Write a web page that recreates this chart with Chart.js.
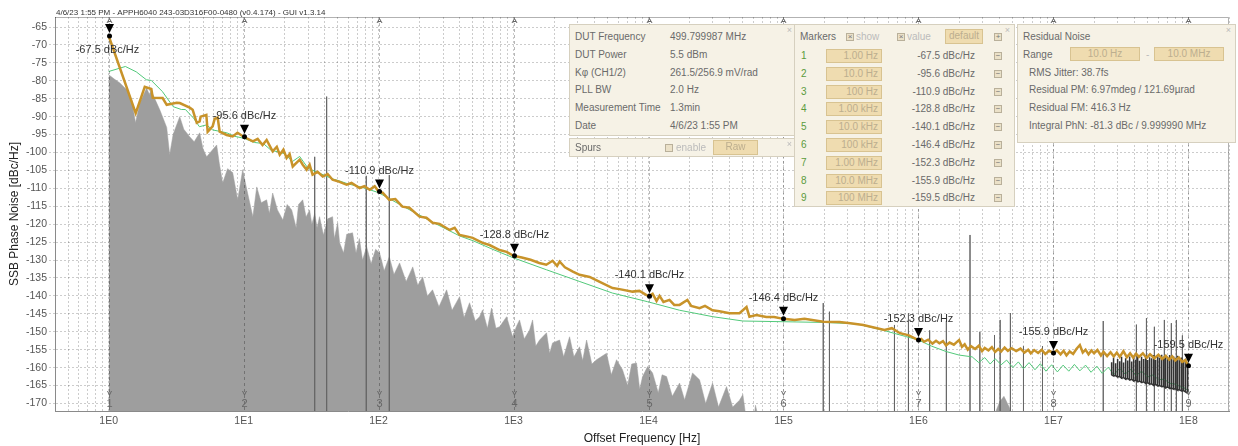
<!DOCTYPE html>
<html>
<head>
<meta charset="utf-8">
<title>SSB Phase Noise</title>
<script src="https://cdn.jsdelivr.net/npm/chart.js@4.4.1/dist/chart.umd.min.js"></script>
<style>
    html, body { margin: 0; padding: 0; background: #fff; }
    #wrap { position: relative; width: 1238px; height: 446px; overflow: hidden;
            font-family: "Liberation Sans", Arial, sans-serif; }
    #phaseNoiseChart { position: absolute; left: 0; top: 0; }
    .panel { position: absolute; background: #f6f2e6; border: 1px solid #d6d0bf;
             box-sizing: border-box; font-size: 10px; color: #6a6a6a; }
    .panel .close { position: absolute; right: 4px; top: 0px; font-size: 9px; color: #bbb; }
    .row { position: absolute; left: 5px; height: 12px; line-height: 12px; white-space: nowrap; }
    .val { left: 100px; }
    .num { color: #5b9b3c; }
    .faint { color: #bbb; }
    .btn { position: absolute; background: #efdcb0; border: 1px solid #d8c391; box-sizing: border-box;
           color: #bcae8f; font-size: 10px; line-height: 12px; white-space: nowrap; }
    .cb { position: absolute; width: 8px; height: 8px; box-sizing: border-box; border: 1px solid #b9b09a;
          background: #ebe1c8; font-size: 8px; line-height: 6px; text-align: center; color: #777; }
</style>
</head>
<body>
<div id="wrap">
    <canvas id="phaseNoiseChart" width="1238" height="446"></canvas>

    <div class="panel" style="left:569px;top:24px;width:228px;height:112px;">
        <span class="close">×</span>
        <div class="row" style="top:6px">DUT Frequency</div><div class="row val" style="top:6px">499.799987 MHz</div>
        <div class="row" style="top:24px">DUT Power</div><div class="row val" style="top:24px">5.5 dBm</div>
        <div class="row" style="top:41.5px">Kφ (CH1/2)</div><div class="row val" style="top:41.5px">261.5/256.9 mV/rad</div>
        <div class="row" style="top:59px">PLL BW</div><div class="row val" style="top:59px">2.0 Hz</div>
        <div class="row" style="top:77px">Measurement Time</div><div class="row val" style="top:77px">1.3min</div>
        <div class="row" style="top:94.5px">Date</div><div class="row val" style="top:94.5px">4/6/23 1:55 PM</div>
    </div>

    <div class="panel" style="left:569px;top:138px;width:228px;height:19px;">
        <span class="close">×</span>
        <div class="row" style="top:3px">Spurs</div>
        <div class="cb" style="left:95px;top:5px;"></div>
        <div class="row faint" style="left:106px;top:3px">enable</div>
        <div class="btn" style="left:143px;top:1px;width:45px;height:15px;text-align:center;">Raw</div>
    </div>

    <div class="panel" id="markerPanel" style="left:794px;top:24px;width:221px;height:183px;">
        <span class="close">×</span>
        <div class="row" style="top:6px">Markers</div>
        <div class="cb" style="left:51px;top:8px;">×</div>
        <div class="row faint" style="left:61px;top:6px">show</div>
        <div class="cb" style="left:102px;top:8px;">×</div>
        <div class="row faint" style="left:112px;top:6px">value</div>
        <div class="btn" style="left:150px;top:4px;width:38px;height:15px;text-align:center;">default</div>
        <div class="cb" style="left:199px;top:8px;">+</div>
    </div>

    <div class="panel" style="left:1017px;top:24px;width:219px;height:119px;">
        <span class="close">×</span>
        <div class="row" style="top:6px">Residual Noise</div>
        <div class="row" style="top:24px">Range</div>
        <div class="btn" style="left:52px;top:22px;width:70px;height:14px;text-align:center;">10.0 Hz</div>
        <div class="row faint" style="left:128px;top:24px">-</div>
        <div class="btn" style="left:136px;top:22px;width:70px;height:14px;text-align:center;">10.0 MHz</div>
        <div class="row" style="left:11px;top:41.5px">RMS Jitter: 38.7fs</div>
        <div class="row" style="left:11px;top:59px">Residual PM: 6.97mdeg / 121.69µrad</div>
        <div class="row" style="left:11px;top:77px">Residual FM: 416.3 Hz</div>
        <div class="row" style="left:11px;top:94.5px">Integral PhN: -81.3 dBc / 9.999990 MHz</div>
    </div>
</div>

<script>
// ---- chart data (offset frequency in Hz, level in dBc/Hz) ----

const headerText = '4/6/23 1:55 PM - APPH6040 243-03D316F00-0480 (v0.4.174) - GUI v1.3.14';

const xTickValues = [1, 10, 100, 1e3, 1e4, 1e5, 1e6, 1e7, 1e8];
const xTickLabels = ['1E0', '1E1', '1E2', '1E3', '1E4', '1E5', '1E6', '1E7', '1E8'];
const yTickValues = [-170, -165, -160, -155, -150, -145, -140, -135, -130, -125, -120, -115,
                     -110, -105, -100, -95, -90, -85, -80, -75, -70, -65];

// measured phase noise (orange trace)
const noiseFreq = [
    1, 1.585, 1.85, 2.07, 2.12, 2.51, 2.69, 3.19, 3.36, 3.98, 4.19, 4.49, 4.72, 4.8, 5.29, 5.41,
    5.89, 6.1, 6.42, 6.64, 7.48, 8.29, 9.0, 10,
    11.7, 12.7, 13.8, 14.8, 16.4, 17.6, 18.5, 19.7, 20.8, 21.9, 23.1, 26, 27.4, 29.3, 30.8, 32.4,
    35.3, 38.5, 41.9, 45.6, 51.4, 57.9, 63, 72.3, 78.5, 85.8, 93.5, 100,
    107, 120, 133, 150, 169, 201, 226, 251, 283, 336, 366, 398, 449, 497, 589, 663, 788, 888, 1000,
    1150, 1337, 1550, 1747, 1945, 2100, 2193, 2400, 2750, 3083, 3660, 4350, 5410, 6100, 7610, 8560, 10000,
    10715, 11470, 12060, 12900, 14300, 15500, 16980, 19400, 20700, 23880, 26200, 29800, 33500, 39800,
    47200, 53200, 55900, 63000, 74600, 85200, 100000,
    121000, 143000, 197000, 260000, 313000, 390000, 560000, 635000, 730000, 850000,
    1e6, 1.05e6, 1.1e6, 1.18e6, 1.27e6, 1.35e6, 1.43e6, 1.52e6, 1.6e6, 1.7e6, 1.83e6, 1.92e6,
    2.0e6, 2.1e6, 2.2e6, 2.32e6, 2.45e6, 2.63e6, 2.8e6, 2.96e6, 3.1e6, 3.3e6, 3.5e6, 3.7e6, 3.9e6,
    4.1e6, 4.35e6, 4.6e6, 4.9e6, 5.3e6, 5.7e6, 6.1e6, 6.5e6, 6.8e6, 7.2e6, 7.7e6, 8.2e6, 8.7e6, 9.3e6,
    1e7, 1.06e7, 1.13e7, 1.19e7, 1.25e7, 1.32e7, 1.4e7, 1.48e7, 1.57e7, 1.65e7, 1.73e7, 1.82e7, 1.91e7,
    2.0e7, 2.12e7, 2.25e7, 2.35e7, 2.5e7, 2.65e7, 2.8e7, 2.95e7, 3.1e7, 3.3e7, 3.5e7, 3.7e7, 3.9e7,
    4.1e7, 4.3e7, 4.6e7, 4.9e7, 5.2e7, 5.6e7, 6.0e7, 6.4e7, 6.8e7, 7.2e7, 7.6e7, 8.0e7, 8.5e7, 9.0e7,
    9.5e7, 1e8
];
const noiseLevel = [
    -67.5, -89.0, -81.7, -82.3, -84.7, -84.8, -86.7, -86.1, -86.2, -87.5, -88.1, -91.7, -91.3, -90.0, -89.5, -94.2,
    -92.7, -90.6, -90.3, -94.2, -95.1, -95.5, -94.5, -95.6,
    -96.9, -96.2, -97.9, -96.5, -99.7, -98.4, -100.6, -99.2, -101.5, -100.4, -103.9, -102.0, -103.4, -104.8, -103.4, -106.2,
    -105.4, -106.7, -106.0, -107.6, -108.2, -109.0, -108.5, -109.9, -109.4, -110.4, -109.4, -110.9,
    -111.2, -113.2, -113.0, -115.1, -115.4, -117.9, -118.2, -119.6, -119.9, -121.6, -121.0, -123.0, -123.4, -123.8, -125.2, -125.8, -127.2, -127.7, -128.8,
    -129.3, -129.9, -130.8, -131.3, -130.2, -131.6, -130.4, -132.0, -133.2, -134.1, -134.7, -136.1, -137.8, -138.1, -138.8, -138.6, -140.1,
    -139.4, -141.4, -140.0, -141.7, -141.1, -142.5, -142.5, -141.1, -142.8, -143.4, -142.8, -144.0, -144.3, -144.8,
    -144.8, -143.1, -145.8, -145.3, -145.9, -145.9, -146.4,
    -146.7, -146.4, -147.2, -147.3, -147.6, -148.1, -149.5, -149.0, -150.4, -151.0,
    -152.3, -152.0, -152.8, -152.2, -153.3, -152.5, -153.2, -152.6, -153.8, -153.0, -153.6, -152.9,
    -152.3, -154.2, -153.5, -155.0, -154.0, -154.8, -153.9, -155.4, -154.5, -155.2, -154.3, -155.6, -154.8,
    -155.5, -154.4, -155.3, -154.6, -155.4, -154.7, -155.8, -155.0, -156.0, -155.1, -155.9, -155.0, -156.2, -155.3,
    -155.9, -155.2, -156.3, -155.3, -156.6, -155.5, -156.2, -154.8, -153.7, -155.8, -155.0, -156.3, -155.2,
    -156.0, -155.1, -156.6, -155.6, -156.8, -155.7, -156.9, -155.8, -157.0, -155.4, -157.1, -156.0, -157.2,
    -156.1, -157.0, -156.0, -157.3, -156.3, -157.4, -156.4, -157.6, -156.7, -157.8, -156.9, -158.0, -157.2, -158.4,
    -157.9, -159.5
];

// reference trace (green)
const refFreq = [
    1, 1.33, 1.6, 1.9, 2.07, 2.5, 3.0, 3.45, 3.7, 4.25, 4.7, 5.3, 5.9, 7.5, 8.6, 10,
    12, 14, 16, 18, 20, 23, 26, 30, 35, 40, 45, 50, 60, 70, 80, 100,
    130, 170, 200, 250, 300, 400, 500, 700, 1000, 1750, 3100, 5400, 9800, 17000, 30000, 50000,
    1e5, 2e5, 3.5e5, 5.5e5, 8e5, 1e6, 1.25e6, 1.6e6, 2e6,
    2.5e6, 2.8e6, 3.1e6, 3.4e6, 3.7e6, 4.1e6, 4.5e6, 5e6, 5.5e6, 6e6, 6.6e6, 7.3e6, 8e6, 8.8e6, 9.7e6,
    1.07e7, 1.18e7, 1.3e7, 1.43e7, 1.57e7, 1.73e7, 1.9e7, 2.1e7, 2.3e7, 2.55e7, 2.8e7, 3.1e7, 3.4e7,
    3.75e7, 4.1e7, 4.5e7, 5e7, 5.5e7, 6e7, 6.6e7, 7.3e7, 8e7, 8.8e7, 9.5e7, 1e8
];
const refLevel = [
    -77.4, -76.0, -77.5, -79.7, -79.9, -83.0, -87.2, -88.0, -88.0, -90.4, -92.8, -92.3, -93.7, -94.5, -95.5, -96.0,
    -97.2, -97.5, -99.4, -99.8, -100.3, -102.5, -101.1, -104.4, -105.5, -106.4, -107.3, -107.8, -108.8, -109.4, -110.0, -111.2,
    -113.6, -116.0, -117.4, -119.4, -120.9, -123.3, -124.6, -127.0, -129.4, -132.7, -136.0, -139.2, -141.6, -144.0, -145.8, -147.0,
    -147.2, -147.4, -147.8, -149.6, -151.3, -152.3, -154.0, -155.5, -156.5,
    -157.0, -158.6, -157.2, -159.0, -157.5, -159.2, -157.9, -160.0, -158.4, -160.3, -158.6, -160.6, -158.9, -161.0, -159.2,
    -161.2, -159.3, -161.0, -159.1, -160.9, -159.3, -161.3, -159.6, -161.6, -159.9, -162.0, -160.2, -161.8,
    -160.5, -162.2, -161.0, -162.6, -162.0, -163.4, -163.2, -164.4, -164.6, -165.4, -165.8, -166.5
];

// raw noise floor (grey area)
const floorFreq = [
    1, 1.1, 1.21, 1.36, 1.48, 1.58, 1.7, 1.91, 2.01, 2.05, 2.39, 2.69, 2.83, 3.0, 3.36, 3.6, 3.98, 4.3, 4.72, 5.0,
    5.32, 5.8, 6.31, 6.6, 6.99, 7.6, 8.29, 9.03, 9.84, 10.5, 11.7, 12.5, 13.5, 14.8, 15.5, 16.4, 17.8, 19.5,
    21, 22.7, 24.5, 25.5, 27.4, 29, 30.8, 32, 33.6, 35, 36.5, 39, 42, 45.6, 47, 49.7, 51.4, 55, 58, 64.1, 68, 72,
    76, 81.5, 88, 95, 101.7, 110, 120, 130, 143, 160, 179, 195, 212, 230, 251, 280, 319, 350, 398, 430, 472, 520,
    560, 589, 640, 687, 740, 788, 888, 984, 1050, 1107, 1200, 1314, 1383, 1460, 1559, 1755, 1850, 1945, 2193,
    2350, 2600, 2800, 3083, 3250, 3475, 3800, 4120, 4885, 5300, 5794, 6412, 7000, 7500, 8147, 8600, 9033, 9840,
    10715, 11800, 12600, 13600, 15000, 16980, 18500, 21180, 23880, 26500, 29800, 33000, 37840, 42000, 47200,
    50000, 53200, 60000, 62000, 66000, 3.5e6, 4.0e6, 4.3e6, 4.7e6, 5.0e6
];
const floorLevel = [
    -78.3, -79.5, -80.6, -82.5, -85.3, -91.7, -86.2, -82.0, -84.0, -82.5, -88.1, -93.0, -100.6, -95.0, -90.0, -93.5, -95.6, -97.0, -94.5, -99.0,
    -101.2, -99.5, -97.9, -103.0, -108.5, -104.5, -105.6, -113.2, -104.8, -110.0, -117.9, -109.6, -114.0, -113.2, -117.0, -111.3, -116.0, -118.8,
    -114.5, -116.0, -121.0, -114.5, -113.2, -118.0, -116.0, -120.0, -117.0, -121.0, -117.9, -123.0, -118.5, -117.9, -124.0, -119.6, -125.2, -128.0, -122.8, -122.4, -128.0, -124.0,
    -130.0, -126.3, -131.0, -127.0, -128.0, -133.0, -129.1, -134.0, -130.8, -136.0, -131.9, -137.0, -134.7, -140.0, -138.3, -143.0, -138.3, -144.0, -140.2, -146.0, -141.9, -147.0,
    -145.8, -143.9, -149.0, -143.4, -149.0, -148.6, -145.8, -151.4, -148.5, -146.7, -152.0, -149.5, -146.7, -154.0, -152.3, -150.3, -156.0, -153.1, -152.3,
    -157.0, -151.4, -157.0, -154.2, -158.0, -152.3, -159.0, -157.8, -156.0, -162.0, -157.8, -160.6, -165.0, -159.0, -158.7, -166.0, -162.5, -159.7,
    -161.5, -167.0, -162.0, -162.5, -168.0, -164.3, -169.0, -161.5, -163.4, -170.0, -164.3, -171.0, -165.3, -171.0, -169.1,
    -167.5, -175.0, -175.0, -170.5, -175.0, -175.0, -169.5, -168.0, -171.0, -175.0
];

// discrete spurs (vertical lines)
const spurFreq = [
    33.6, 41.2, 81, 120, 1.97e5, 2.19e5, 6.64e5, 8.43e5, 1.21e6, 1.61e6, 2.41e6, 2.85e6, 3.66e6, 4.03e6,
    4.8e6, 6.0e6, 8.3e6, 2.34e7, 4.12e7, 4.89e7, 5.6e7, 6.64e7, 7.48e7, 8.15e7, 9.03e7
];
const spurLevel = [
    -101.2, -84.4, -106.5, -106.3, -142.0, -144.4, -148.1, -144.8, -149.6, -147.0, -123.0, -150.0, -150.9, -146.7,
    -144.8, -154.0, -154.0, -147.0, -148.0, -146.2, -148.6, -146.7, -147.6, -146.7, -151.0
];

// dense spur comb near the top of the offset range: tooth frequency, tooth top, tooth foot
const combFreq = [
    27.0e6, 27.9e6, 28.9e6, 29.9e6, 31.0e6, 32.0e6, 33.1e6, 34.3e6, 35.5e6, 36.7e6, 38.0e6, 39.3e6, 40.7e6,
    42.1e6, 43.5e6, 45.0e6, 46.6e6, 48.2e6, 49.9e6, 51.6e6, 53.4e6, 55.3e6, 57.2e6, 59.2e6, 61.2e6, 63.4e6,
    65.6e6, 67.8e6, 70.2e6, 72.6e6, 75.2e6, 77.8e6, 80.5e6, 83.3e6, 86.1e6, 89.1e6, 92.2e6, 95.4e6, 98.8e6
];
const combTop = [
    -158.5, -157.2, -158.8, -157.6, -158.2, -157.0, -158.6, -157.4, -158.0, -156.9, -158.3, -157.3, -157.8,
    -156.8, -158.1, -157.0, -157.6, -156.6, -157.9, -157.1, -157.4, -156.5, -157.8, -156.9, -157.3, -156.4,
    -157.6, -156.8, -157.2, -156.5, -157.7, -156.9, -157.4, -156.7, -157.9, -157.2, -158.0, -157.5, -158.6
];
const combFoot = [
    -162.0, -162.3, -162.2, -162.6, -162.5, -162.9, -162.8, -163.2, -163.0, -163.4, -163.3, -163.7, -163.5,
    -163.9, -163.8, -164.1, -164.0, -164.4, -164.2, -164.6, -164.5, -164.9, -164.7, -165.1, -165.0, -165.3,
    -165.2, -165.6, -165.4, -165.8, -165.7, -166.0, -165.9, -166.3, -166.2, -166.5, -166.4, -166.8, -167.0
];

// markers
const markerFreq = [1, 10, 100, 1e3, 1e4, 1e5, 1e6, 1e7, 1e8];
const markerFreqText = ['1.00 Hz', '10.0 Hz', '100 Hz', '1.00 kHz', '10.0 kHz', '100 kHz', '1.00 MHz', '10.0 MHz', '100 MHz'];
const markerLevel = [-67.5, -95.6, -110.9, -128.8, -140.1, -146.4, -152.3, -155.9, -159.5];

const FONT = '"Liberation Sans", Arial, sans-serif';
const SPUR_FLOOR = -180;

document.addEventListener('DOMContentLoaded', function () {
    fillMarkerPanel();
    renderPhaseNoiseChart();
});

function toPoints(xs, ys) {
    return xs.map((x, i) => ({ x: x, y: ys[i] }));
}

// each spur becomes a vertical stroke from below the axis up to its level
function toSpurPoints(xs, ys) {
    const pts = [];
    xs.forEach((x, i) => {
        pts.push({ x: x, y: SPUR_FLOOR }, { x: x, y: ys[i] }, { x: x, y: SPUR_FLOOR });
    });
    return pts;
}

// comb teeth: up from the foot to the top and back down at the same frequency
function toCombPoints(xs, tops, feet) {
    const pts = [];
    xs.forEach((x, i) => {
        pts.push({ x: x, y: feet[i] }, { x: x, y: tops[i] }, { x: x, y: feet[i] });
    });
    return pts;
}

function fillMarkerPanel() {
    const panel = document.getElementById('markerPanel');
    markerFreq.forEach((f, i) => {
        const top = 25 + i * 17.8;
        panel.insertAdjacentHTML('beforeend',
            `<div class="row num" style="left:6px;top:${top}px">${i + 1}</div>` +
            `<div class="btn" style="left:31px;top:${top - 1}px;width:56px;height:14px;text-align:right;padding-right:3px;">${markerFreqText[i]}</div>` +
            `<div class="row" style="left:100px;width:80px;text-align:right;top:${top}px">${markerLevel[i].toFixed(1)} dBc/Hz</div>` +
            `<div class="cb" style="left:199px;top:${top + 2}px;">−</div>`);
    });
}

const overlayPlugin = {
    id: 'overlay',
    afterDraw(chart) {
        const { ctx, chartArea: area, scales: { x, y } } = chart;
        ctx.save();

        // header line
        ctx.font = '8px ' + FONT;
        ctx.fillStyle = '#333';
        ctx.textAlign = 'left';
        ctx.textBaseline = 'alphabetic';
        ctx.fillText(headerText, area.left + 1, 15);

        // top / right frame
        ctx.strokeStyle = 'rgba(0,0,0,0.3)';
        ctx.lineWidth = 1;
        ctx.beginPath();
        ctx.moveTo(area.left, area.top + 0.5);
        ctx.lineTo(area.right - 0.5, area.top + 0.5);
        ctx.lineTo(area.right - 0.5, area.bottom);
        ctx.stroke();

        markerFreq.forEach((f, i) => {
            const px = Math.round(x.getPixelForValue(f)) + 0.5;
            const py = y.getPixelForValue(markerLevel[i]);

            // dashed marker line
            ctx.save();
            ctx.setLineDash([3, 3]);
            ctx.strokeStyle = 'rgba(0,0,0,0.28)';
            ctx.beginPath();
            ctx.moveTo(px, area.top);
            ctx.lineTo(px, area.bottom);
            ctx.stroke();
            ctx.restore();

            // caret at the top, arrow + number at the bottom
            ctx.strokeStyle = '#666';
            ctx.beginPath();
            ctx.moveTo(px - 2.5, area.top + 6);
            ctx.lineTo(px, area.top + 1.5);
            ctx.lineTo(px + 2.5, area.top + 6);
            ctx.moveTo(px - 1.5, area.top + 4.5);
            ctx.lineTo(px + 1.5, area.top + 4.5);
            ctx.stroke();
            ctx.beginPath();
            ctx.moveTo(px - 2, area.bottom - 20);
            ctx.lineTo(px, area.bottom - 16);
            ctx.lineTo(px + 2, area.bottom - 20);
            ctx.stroke();
            ctx.font = '11px ' + FONT;
            ctx.fillStyle = '#666';
            ctx.textAlign = 'center';
            ctx.textBaseline = 'middle';
            ctx.fillText(String(i + 1), px, area.bottom - 7);

            // marker symbol on the trace
            ctx.fillStyle = '#000';
            ctx.beginPath();
            ctx.moveTo(px - 4.5, py - 12);
            ctx.lineTo(px + 4.5, py - 12);
            ctx.lineTo(px, py - 3);
            ctx.closePath();
            ctx.fill();
            ctx.beginPath();
            ctx.arc(px, py, 2.5, 0, Math.PI * 2);
            ctx.fill();

            // value label
            const labelY = (py - 21 < area.top + 8) ? py + 14 : py - 21;
            ctx.fillStyle = '#333';
            ctx.fillText(markerLevel[i].toFixed(1) + ' dBc/Hz', px - (labelY > py ? 2 : 0), labelY);
        });
        ctx.restore();
    }
};

function renderPhaseNoiseChart() {
    Chart.defaults.font.family = FONT;
    const ctx = document.getElementById('phaseNoiseChart').getContext('2d');

    new Chart(ctx, {
        type: 'line',
        data: {
            datasets: [
                {
                    label: 'Phase Noise',
                    data: toPoints(noiseFreq, noiseLevel),
                    borderColor: '#c8932a',
                    borderWidth: 2.5,
                    order: 0
                },
                {
                    label: 'Spur comb',
                    data: toCombPoints(combFreq, combTop, combFoot),
                    borderColor: '#333',
                    borderWidth: 1.5,
                    order: 1
                },
                {
                    label: 'Reference',
                    data: toPoints(refFreq, refLevel),
                    borderColor: '#52c97a',
                    borderWidth: 1,
                    order: 2
                },
                {
                    label: 'Spurs',
                    data: toSpurPoints(spurFreq, spurLevel),
                    borderColor: '#666',
                    borderWidth: 1,
                    order: 3
                },
                {
                    label: 'Raw',
                    data: toPoints(floorFreq, floorLevel),
                    borderColor: '#9e9e9e',
                    backgroundColor: '#9e9e9e',
                    borderWidth: 0.5,
                    fill: 'start',
                    order: 4
                }
            ]
        },
        options: {
            responsive: false,
            animation: false,
            layout: { padding: { left: 0, right: 9, top: 17, bottom: 0 } },
            elements: {
                point: { radius: 0 },
                line: { tension: 0 }
            },
            plugins: {
                legend: { display: false },
                tooltip: { enabled: false }
            },
            scales: {
                x: {
                    type: 'logarithmic',
                    min: 0.4,
                    max: 2e8,
                    z: 1,
                    afterFit: scale => { scale.height = 35; },
                    afterBuildTicks: scale => {
                        const ticks = [];
                        for (let e = -1; e <= 8; e++) {
                            for (let k = 1; k <= 9; k++) {
                                const v = k * Math.pow(10, e);
                                if (v >= 0.4 && v <= 2e8) ticks.push({ value: v });
                            }
                        }
                        scale.ticks = ticks;
                    },
                    ticks: {
                        autoSkip: false,
                        maxRotation: 0,
                        padding: 4,
                        color: '#555',
                        font: { size: 10.5 },
                        callback: value => {
                            const idx = xTickValues.findIndex(t => Math.abs(value - t) / t < 1e-9);
                            return idx >= 0 ? xTickLabels[idx] : '';
                        }
                    },
                    grid: { color: 'rgba(0,0,0,0.2)', drawTicks: false },
                    border: { display: true, color: '#8a8a8a', dash: [2, 2] },
                    title: {
                        display: true,
                        text: 'Offset Frequency [Hz]',
                        color: '#222',
                        font: { size: 12 },
                        padding: { top: 1, bottom: 0 }
                    }
                },
                y: {
                    min: -172.1,
                    max: -62.2,
                    z: 1,
                    afterFit: scale => { scale.width = 55; },
                    afterBuildTicks: scale => {
                        scale.ticks = yTickValues.map(v => ({ value: v }));
                    },
                    ticks: {
                        padding: 2,
                        color: '#555',
                        font: { size: 10.5 },
                        callback: value => String(value)
                    },
                    grid: {
                        color: 'rgba(0,0,0,0.2)',
                        tickLength: 6,
                        tickBorderDash: [2, 2]
                    },
                    border: { display: true, color: '#8a8a8a', dash: [2, 2] },
                    title: {
                        display: true,
                        text: 'SSB Phase Noise [dBc/Hz]',
                        color: '#222',
                        font: { size: 12 },
                        padding: { top: 7, bottom: 0 }
                    }
                }
            }
        },
        plugins: [overlayPlugin]
    });
}
</script>
</body>
</html>
